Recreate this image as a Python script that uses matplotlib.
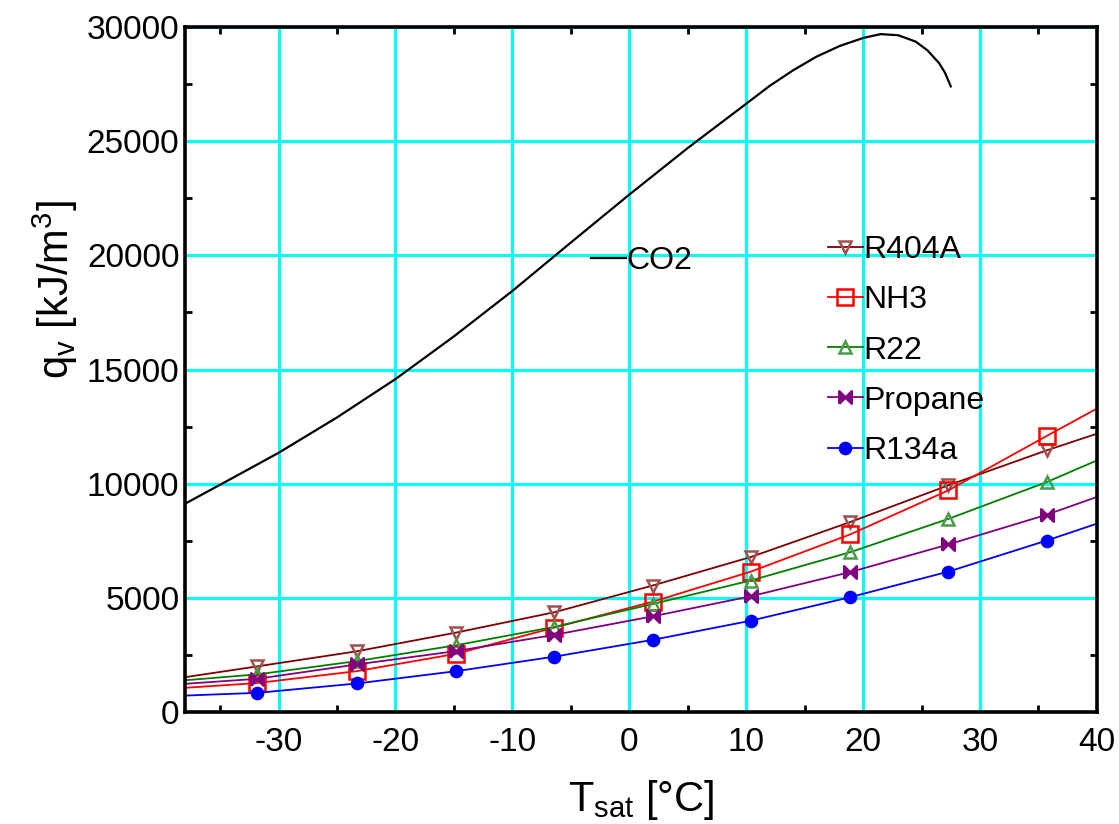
import numpy as np
import matplotlib
matplotlib.use('Agg')
import matplotlib.pyplot as plt
from matplotlib.ticker import MultipleLocator

plt.rcParams['font.family'] = ['Liberation Sans', 'DejaVu Sans']
plt.rcParams['axes.unicode_minus'] = False

# CO2 curve
t_co2 = [-38, -34, -30, -25, -20, -15, -10, -5, 0, 5, 10, 12, 14, 16, 18, 20,
         21.5, 23, 24.5, 25.5, 26.5, 27, 27.5]
q_co2 = [9120, 10230, 11350, 12900, 14580, 16450, 18440, 20560, 22660, 24700,
         26640, 27420, 28100, 28700, 29170, 29520, 29690, 29640, 29360, 28980,
         28420, 28000, 27400]

# other refrigerants: line ends at -38 / 40, markers in between
t_line = [-38, -31.8, -23.3, -14.8, -6.4, 2.0, 10.4, 18.9, 27.3, 35.7, 40]
q_r404a = [1525, 2000, 2660, 3480, 4370, 5540, 6790, 8320, 9930, 11460, 12190]
q_nh3 = [1060, 1270, 1790, 2550, 3700, 4830, 6150, 7780, 9710, 12090, 13290]
q_r22 = [1390, 1650, 2230, 2925, 3730, 4730, 5760, 7000, 8460, 10070, 11020]
q_propane = [1235, 1455, 2085, 2670, 3380, 4190, 5070, 6130, 7340, 8640, 9420]
q_r134a = [720, 840, 1250, 1790, 2425, 3160, 4000, 5030, 6150, 7510, 8250]

bowtie = [(-1, -1), (1, 1), (1, -1), (-1, 1), (-1, -1)]

fig = plt.figure(figsize=(11.19, 8.24), dpi=100)
ax = fig.add_axes([0.1653, 0.1359, 0.8150, 0.8313])

co2_line, = ax.plot(t_co2, q_co2, color='black', lw=1.6, label='CO2')

series = [
    ('R404A', q_r404a, '#800000', 'v', 'none', '#a05050', 8),
    ('NH3', q_nh3, '#ff0000', 's', 'none', '#ff0000', 11),
    ('R22', q_r22, '#008000', '^', 'none', '#4a9a4a', 8),
    ('Propane', q_propane, '#800080', bowtie, '#800080', '#800080', 9),
    ('R134a', q_r134a, '#0000ff', 'o', '#0000ff', '#0000ff', 8),
]
handles = []
for name, q, col, mk, mfc, mec, ms in series:
    h, = ax.plot(t_line, q, color=col, lw=1.3, marker=mk, mfc=mfc, mec=mec,
                 ms=ms, mew=1.8, markevery=list(range(1, 10)), label=name)
    handles.append(h)

ax.set_xlim(-38, 40)
ax.set_ylim(0, 30000)
ax.xaxis.set_major_locator(MultipleLocator(10))
ax.set_xticks(np.arange(-35, 40, 10), minor=True)
ax.yaxis.set_major_locator(MultipleLocator(5000))
ax.set_yticks(np.arange(2500, 30000, 5000), minor=True)

ax.grid(True, which='major', color='#00ffff', lw=2.2)
ax.set_axisbelow(True)
for s in ax.spines.values():
    s.set_linewidth(2.6)

ax.tick_params(which='major', length=0, labelsize=24)
ax.tick_params(axis='x', which='major', pad=11)
ax.tick_params(axis='y', which='major', pad=4)
ax.tick_params(which='minor', direction='in', length=5, width=2,
               top=True, right=True)

ax.set_xlabel(r'T$_\mathregular{sat}$ [°C]', fontsize=30, va='top')
ax.xaxis.set_label_coords(0.5, -0.097)
ax.set_ylabel(r'q$_\mathregular{v}$ [kJ/m$^\mathregular{3}$]', fontsize=30)
ax.yaxis.set_label_coords(-0.115, 0.616)

leg = ax.legend(handles=handles, loc='upper left', bbox_to_anchor=(0.705, 0.696),
                frameon=False, fontsize=23, handlelength=1.1, handletextpad=0.0,
                labelspacing=0.63, borderpad=0, borderaxespad=0)
ax.add_artist(leg)
ax.legend(handles=[co2_line], loc='upper left', bbox_to_anchor=(0.445, 0.680),
          frameon=False, fontsize=23, handlelength=1.1, handletextpad=0.0,
          borderpad=0, borderaxespad=0)

fig.savefig('out.png', dpi=100)
